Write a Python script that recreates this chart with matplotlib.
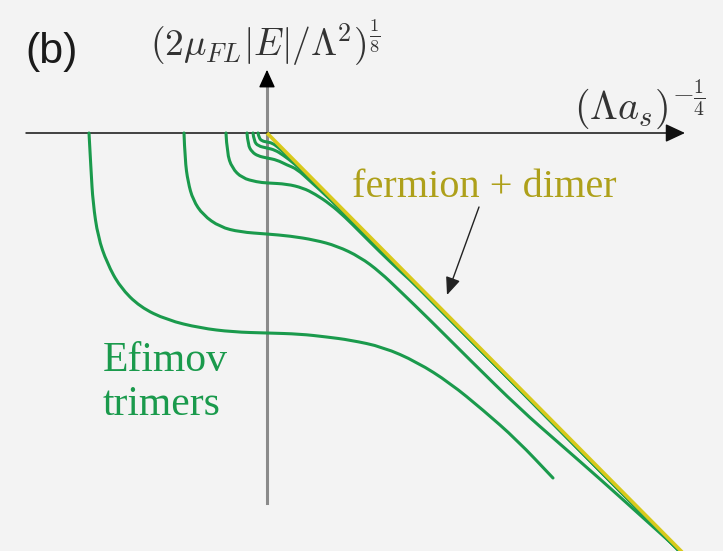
import numpy as np
import matplotlib
matplotlib.use("Agg")
import matplotlib.pyplot as plt
from matplotlib.path import Path
from matplotlib.patches import PathPatch

plt.rcParams['mathtext.fontset'] = 'cm'

# x = (Lambda a_s)^(-1/4), y = -(2 mu |E| / Lambda^2)^(1/8)
# fermion + dimer threshold
dimer_x = [0.0, 4.18]
dimer_y = [0.0, -4.22]

# Efimov trimer branches, from the deepest to the shallowest
trimer1_x = [-1.78, -1.76, -1.74, -1.69, -1.60, -1.47, -1.27, -1.00, -0.67, -0.34,
             0.00, 0.33, 0.60, 0.83, 1.16, 1.50, 1.83, 2.16, 2.50, 2.86]
trimer1_y = [0.00, -0.37, -0.70, -1.04, -1.30, -1.54, -1.74, -1.87, -1.95, -1.99,
             -2.00, -2.01, -2.04, -2.07, -2.14, -2.29, -2.50, -2.77, -3.07, -3.45]

trimer2_x = [-0.83, -0.82, -0.79, -0.74, -0.64, -0.47, -0.27, 0.00, 0.23, 0.48,
             0.70, 0.93, 1.13, 1.33, 1.63, 2.03, 2.53, 2.93, 3.33, 3.73, 4.13]
trimer2_y = [0.00, -0.27, -0.49, -0.67, -0.82, -0.94, -0.99, -1.01, -1.03, -1.07,
             -1.13, -1.24, -1.39, -1.58, -1.87, -2.27, -2.76, -3.11, -3.46, -3.82, -4.18]

trimer3_x = [-0.41, -0.40, -0.35, -0.25, -0.10, 0.00, 0.20, 0.36, 0.48, 0.63,
             0.78, 0.93, 1.13, 1.33, 1.53, 4.13]
trimer3_y = [0.00, -0.20, -0.35, -0.45, -0.49, -0.50, -0.51, -0.55, -0.61, -0.71,
             -0.84, -0.99, -1.19, -1.38, -1.56, -4.19]

trimer4_x = [-0.20, -0.19, -0.15, -0.09, 0.00, 0.10, 0.20, 0.30, 0.43, 0.63, 0.93, 4.13]
trimer4_y = [0.00, -0.12, -0.19, -0.23, -0.25, -0.27, -0.32, -0.36, -0.48, -0.66, -0.955, -4.185]

trimer5_x = [-0.14, -0.13, -0.09, 0.00, 0.08, 0.16, 0.28, 0.43, 4.13]
trimer5_y = [0.00, -0.08, -0.13, -0.15, -0.17, -0.22, -0.31, -0.45, -4.185]

trimer6_x = [-0.09, -0.08, -0.05, 0.00, 0.05, 0.11, 0.23, 4.13]
trimer6_y = [0.00, -0.05, -0.08, -0.09, -0.10, -0.14, -0.25, -4.185]

trimers = [(trimer1_x, trimer1_y), (trimer2_x, trimer2_y), (trimer3_x, trimer3_y),
           (trimer4_x, trimer4_y), (trimer5_x, trimer5_y), (trimer6_x, trimer6_y)]

green = '#1a9a4c'
yellow = '#d8c91c'


def smooth_path(xs, ys):
    # quadratic Bezier pieces through the midpoints, the given points act as controls
    pts = np.column_stack([xs, ys])
    verts = [pts[0]]
    codes = [Path.MOVETO]
    for i in range(1, len(pts) - 1):
        verts += [pts[i], (pts[i] + pts[i + 1]) / 2]
        codes += [Path.CURVE3, Path.CURVE3]
    verts.append(pts[-1])
    codes.append(Path.LINETO)
    return Path(verts, codes)


fig = plt.figure(figsize=(7.23, 5.51), dpi=100)
fig.patch.set_facecolor('#f3f3f3')
ax = fig.add_axes([0, 0, 1, 1])
ax.set_xlim(-2.67, 4.56)
ax.set_ylim(-4.18, 1.33)
ax.axis('off')

# coordinate axes
ax.plot([0, 0], [-3.70, 0.55], color='#8a8a8a', lw=2.2, zorder=1)
ax.annotate('', xy=(0, 0.66), xytext=(0, 0.50),
            arrowprops=dict(arrowstyle='-|>,head_length=0.55,head_width=0.25',
                            color='black', lw=1.0, mutation_scale=20), zorder=2)
ax.annotate('', xy=(4.18, 0), xytext=(-2.41, 0),
            arrowprops=dict(arrowstyle='-|>,head_length=0.6,head_width=0.28',
                            color='#111111', lw=1.1, mutation_scale=20, shrinkA=0, shrinkB=0),
            zorder=2)

for tx, ty in trimers:
    ax.add_patch(PathPatch(smooth_path(tx, ty), facecolor='none', edgecolor=green,
                           lw=2.2, capstyle='round', joinstyle='round', zorder=3))

ax.plot(dimer_x, dimer_y, color=yellow, lw=2.6, solid_capstyle='butt', zorder=4)

# labels
ax.text(-2.15, 0.81, '(b)', fontsize=31, family='Liberation Sans',
        ha='center', va='center', color='#1a1a1a')
ax.text(-0.02, 0.90, r'$(2\mu_{FL}|E|/\Lambda^2)^{\frac{1}{8}}$', fontsize=27,
        ha='center', va='center', color='#333333')
ax.text(3.73, 0.28, r'$(\Lambda a_s)^{-\frac{1}{4}}$', fontsize=29,
        ha='center', va='center', color='#333333')
ax.text(2.17, -0.64, 'fermion + dimer', fontsize=29, family='Liberation Serif',
        ha='center', va='baseline', color='#aea01a')
ax.text(-1.64, -2.38, 'Efimov', fontsize=30, family='Liberation Serif',
        ha='left', va='baseline', color=green)
ax.text(-1.64, -2.82, 'trimers', fontsize=30, family='Liberation Serif',
        ha='left', va='baseline', color=green)

ax.annotate('', xy=(1.80, -1.62), xytext=(2.12, -0.74),
            arrowprops=dict(arrowstyle='-|>,head_length=0.6,head_width=0.25',
                            color='#222222', lw=1.0, mutation_scale=18,
                            shrinkA=0, shrinkB=0), zorder=5)

fig.savefig('out.png', dpi=100, facecolor=fig.get_facecolor())
